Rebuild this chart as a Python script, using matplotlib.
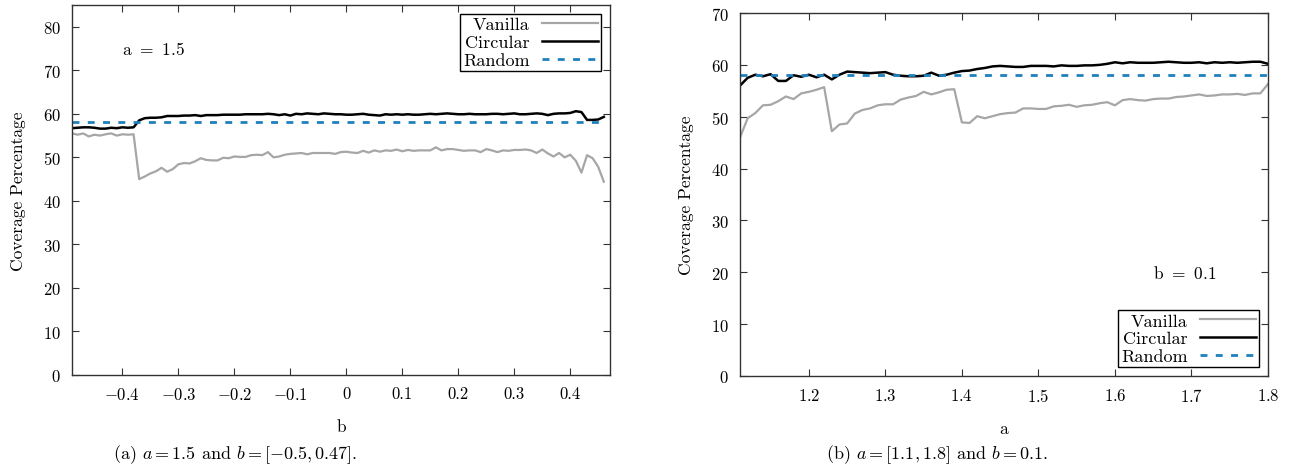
import numpy as np
import matplotlib
matplotlib.use('Agg')
import matplotlib.pyplot as plt

plt.rcParams['font.family'] = 'serif'
plt.rcParams['font.serif'] = ['cmr10']
plt.rcParams['mathtext.fontset'] = 'cm'
plt.rcParams['axes.formatter.use_mathtext'] = True
plt.rcParams['axes.unicode_minus'] = True

# (a) a = 1.5, b swept
b_vals = np.round(np.arange(-0.49, 0.465, 0.01), 2)
vanilla_a = [55.5, 55.2, 55.5, 54.8, 55.2, 55.0, 55.3, 55.5, 55.0, 55.3, 55.2, 55.3,
             45.0, 45.6, 46.3, 46.8, 47.6, 46.7, 47.3, 48.4, 48.7, 48.6, 49.1, 49.8,
             49.4, 49.3, 49.3, 49.9, 49.8, 50.2, 50.1, 50.1, 50.5, 50.6, 50.5, 51.2,
             50.0, 50.2, 50.6, 50.8, 50.9, 51.0, 50.7, 51.0, 51.0, 51.0, 51.0, 50.8,
             51.2, 51.3, 51.1, 51.0, 51.5, 51.1, 51.6, 51.3, 51.6, 51.5, 51.8, 51.4,
             51.7, 51.5, 51.6, 51.6, 51.6, 52.3, 51.6, 51.9, 51.9, 51.7, 51.5, 51.6,
             51.6, 51.2, 51.9, 51.6, 51.2, 51.6, 51.5, 51.7, 51.7, 51.8, 51.6, 51.0,
             51.8, 50.9, 50.2, 51.0, 50.0, 50.6, 49.2, 46.5, 50.5, 49.8, 47.8, 44.4]
circular_a = [56.7, 56.8, 56.9, 56.9, 56.8, 56.6, 56.6, 56.8, 56.7, 56.9, 56.8, 56.9,
              58.5, 59.0, 59.1, 59.1, 59.2, 59.5, 59.5, 59.5, 59.6, 59.6, 59.7, 59.5,
              59.7, 59.7, 59.7, 59.8, 59.8, 59.8, 59.8, 59.9, 59.9, 59.9, 59.9, 60.0,
              59.9, 59.7, 59.9, 59.6, 60.0, 59.9, 60.1, 60.0, 59.9, 60.1, 60.0, 59.9,
              59.9, 59.8, 59.8, 59.9, 60.0, 59.8, 59.7, 59.6, 59.9, 59.8, 59.9, 59.8,
              59.9, 59.8, 59.8, 59.9, 60.0, 59.9, 60.0, 60.1, 60.0, 59.9, 59.9, 60.0,
              59.9, 59.9, 59.9, 60.0, 60.0, 59.9, 60.0, 60.1, 59.9, 59.9, 60.0, 60.1,
              60.0, 59.7, 60.0, 60.1, 60.1, 60.2, 60.6, 60.4, 58.6, 58.6, 58.7, 59.3]
random_a = 58.1

# (b) b = 0.1, a swept
a_vals = np.round(np.arange(1.11, 1.805, 0.01), 2)
vanilla_b = [46.0, 49.7, 50.7, 52.2, 52.3, 53.0, 53.9, 53.4, 54.5, 54.8, 55.2, 55.7,
             47.2, 48.5, 48.7, 50.6, 51.3, 51.6, 52.2, 52.4, 52.4, 53.3, 53.7, 54.0,
             54.8, 54.3, 54.7, 55.2, 55.3, 48.9, 48.8, 50.1, 49.7, 50.1, 50.5, 50.7,
             50.8, 51.6, 51.6, 51.5, 51.5, 52.0, 52.1, 52.3, 51.9, 52.2, 52.3, 52.6,
             52.8, 52.2, 53.2, 53.4, 53.2, 53.1, 53.4, 53.5, 53.5, 53.8, 53.9, 54.1,
             54.3, 54.0, 54.1, 54.3, 54.3, 54.4, 54.2, 54.5, 54.5, 56.3]
circular_b = [56.0, 57.5, 58.1, 57.8, 58.2, 56.9, 56.9, 58.0, 57.7, 58.1, 57.6, 58.1,
              57.2, 58.1, 58.7, 58.6, 58.5, 58.4, 58.5, 58.6, 58.1, 57.9, 57.8, 57.8,
              57.9, 58.5, 57.9, 58.1, 58.5, 58.8, 58.9, 59.2, 59.4, 59.7, 59.8, 59.7,
              59.6, 59.6, 59.8, 59.8, 59.8, 59.7, 59.9, 59.8, 59.8, 59.9, 59.9, 60.0,
              60.2, 60.5, 60.3, 60.5, 60.4, 60.4, 60.4, 60.5, 60.6, 60.5, 60.4, 60.4,
              60.5, 60.3, 60.5, 60.4, 60.5, 60.4, 60.5, 60.6, 60.6, 60.2]
random_b = 58.0

W, H = 1291, 477
fig = plt.figure(figsize=(W / 100, H / 100), dpi=100)


def add_ax(x0, y0, x1, y1):
    return fig.add_axes([x0 / W, 1 - y1 / H, (x1 - x0) / W, (y1 - y0) / H])


def style(ax):
    ax.tick_params(direction='in', top=True, right=True, labelsize=12, length=5,
                   color='#333333', pad=8)
    for s in ax.spines.values():
        s.set_color('#333333')
        s.set_linewidth(1.0)


def draw(ax, x, van, circ, rnd):
    ax.plot(x, van, color='#a6a6a6', lw=1.6, label='Vanilla')
    ax.plot(x, circ, color='black', lw=1.8, label='Circular')
    ax.plot([x[0], x[-1]], [rnd, rnd], color='#1f80c0', lw=2.0,
            linestyle=(0, (2.5, 3)), label='Random')


def legend(ax, loc):
    leg = ax.legend(loc=loc, markerfirst=False, fontsize=13, frameon=True,
                    fancybox=False, edgecolor='black', framealpha=1, borderpad=0.15,
                    labelspacing=0.12, handlelength=3.1, handletextpad=0.7,
                    borderaxespad=0.5)
    leg.get_frame().set_linewidth(1.0)
    return leg


ax1 = add_ax(72, 6, 610, 376)
draw(ax1, b_vals, vanilla_a, circular_a, random_a)
ax1.set_xlim(-0.49, 0.471)
ax1.set_ylim(0, 85)
ax1.set_xticks([-0.4, -0.3, -0.2, -0.1, 0, 0.1, 0.2, 0.3, 0.4])
ax1.set_xticklabels(['$-0.4$', '$-0.3$', '$-0.2$', '$-0.1$', '0', '0.1', '0.2', '0.3', '0.4'])
ax1.set_yticks(range(0, 90, 10))
ax1.set_xlabel('b', fontsize=12.5, labelpad=12)
ax1.set_ylabel('Coverage Percentage', fontsize=12.5, labelpad=12)
ax1.text(-0.40, 75, 'a $=$ 1.5', fontsize=12.5, va='center')
style(ax1)
legend(ax1, 'upper right')

ax2 = add_ax(740, 14, 1268, 377)
draw(ax2, a_vals, vanilla_b, circular_b, random_b)
ax2.set_xlim(1.11, 1.8)
ax2.set_ylim(0, 70)
ax2.set_xticks([1.2, 1.3, 1.4, 1.5, 1.6, 1.7, 1.8])
ax2.set_yticks(range(0, 80, 10))
ax2.set_xlabel('a', fontsize=12.5, labelpad=12)
ax2.set_ylabel('Coverage Percentage', fontsize=12.5, labelpad=12)
ax2.text(1.65, 20, 'b $=$ 0.1', fontsize=12.5, va='center')
style(ax2)
legend(ax2, 'lower right')

fig.text(235 / W, 1 - 455 / H, '(a) $a = 1.5$ and $b = [-0.5, 0.47]$.', fontsize=13,
         ha='center', va='center')
fig.text(937 / W, 1 - 455 / H, '(b) $a = [1.1, 1.8]$ and $b = 0.1$.', fontsize=13,
         ha='center', va='center')

fig.savefig('out.png', dpi=100)
